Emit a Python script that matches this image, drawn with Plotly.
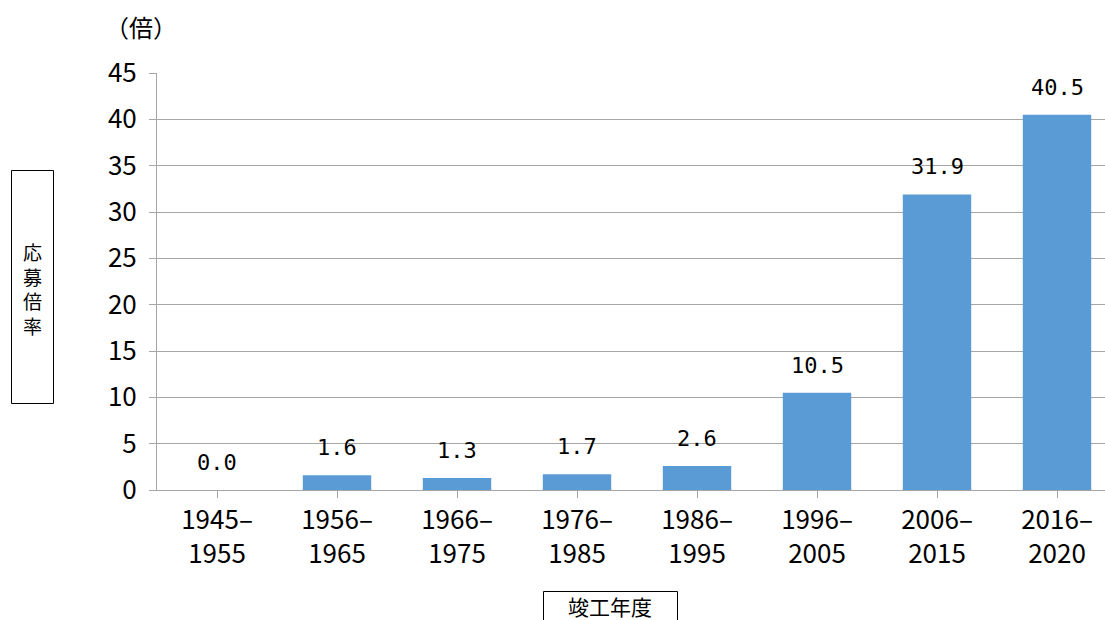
import plotly.graph_objects as go

# 竣工年度別の応募倍率
periods = ["1945-1955", "1956-1965", "1966-1975", "1976-1985",
           "1986-1995", "1996-2005", "2006-2015", "2016-2020"]
ratios = [0.0, 1.6, 1.3, 1.7, 2.6, 10.5, 31.9, 40.5]
y_ticks = [0, 5, 10, 15, 20, 25, 30, 35, 40, 45]
y_title = "応募倍率"
x_title = "竣工年度"
unit = "（倍）"

FONT = "Noto Sans CJK JP"
MONO = "DejaVu Sans Mono"
tick_text = [p.replace("-", "–<br>") for p in periods]

# plot area in pixels
L, R, T, B = 157, 1105, 73, 490


def px_x(px):
    return (px - L) / (R - L)


def px_y(py):
    return (B - py) / (B - T)


fig = go.Figure()
fig.add_trace(go.Bar(
    x=list(range(len(periods))),
    y=ratios,
    width=0.57,
    marker=dict(color="#5b9bd5", line=dict(width=0)),
    hoverinfo="skip",
))

# 棒の上の数値ラベル
for i, v in enumerate(ratios):
    fig.add_annotation(
        x=i, y=v, xref="x", yref="y",
        text=f"{v:.1f}",
        showarrow=False, yanchor="bottom", yshift=13,
        font=dict(family=MONO, size=22, color="#000000"),
    )

# 単位
fig.add_annotation(
    x=px_x(141), y=px_y(26), xref="paper", yref="paper", text=unit,
    xanchor="center", yanchor="middle",
    showarrow=False, font=dict(family=FONT, size=24, color="#000000"),
)

fig.update_layout(
    width=1105, height=620,
    margin=dict(l=L, r=1105 - R, t=T, b=620 - B),
    paper_bgcolor="white", plot_bgcolor="white",
    showlegend=False,
    font=dict(family=FONT, size=25, color="#000000"),
    xaxis=dict(
        range=[-0.5, 7.4],
        tickmode="array",
        tickvals=list(range(len(periods))),
        ticktext=tick_text,
        tickfont=dict(family=FONT, size=26, color="#000000"),
        tickson="boundaries",
        ticks="outside", ticklen=7, tickcolor="#a6a6a6",
        showline=True, linecolor="#a6a6a6", linewidth=1,
        showgrid=False, zeroline=False,
        ticklabelstandoff=0,
    ),
    yaxis=dict(
        range=[0, 45],
        tickmode="array", tickvals=y_ticks,
        tickfont=dict(family=FONT, size=26, color="#000000"),
        ticks="outside", ticklen=7, tickcolor="#a6a6a6",
        showline=True, linecolor="#a6a6a6", linewidth=1,
        showgrid=True, gridcolor="#a6a6a6", gridwidth=1,
        zeroline=False,
        ticklabelstandoff=7,
    ),
)

# 縦軸タイトル（枠付き・縦書き）
fig.add_shape(type="rect", xref="paper", yref="paper",
              x0=px_x(11.5), x1=px_x(53.5),
              y0=px_y(403.5), y1=px_y(170.5),
              line=dict(color="#000000", width=1), fillcolor="white")
fig.add_annotation(
    x=px_x(32), y=px_y(288), xref="paper", yref="paper",
    text="<br>".join(y_title), showarrow=False,
    xanchor="center", yanchor="middle",
    font=dict(family=FONT, size=19, color="#000000"),
)

# 横軸タイトル（枠付き）
fig.add_shape(type="rect", xref="paper", yref="paper",
              x0=px_x(543.5), x1=px_x(677.5),
              y0=px_y(640), y1=px_y(591.5),
              line=dict(color="#000000", width=1), fillcolor="white")
fig.add_annotation(
    x=px_x(610), y=px_y(606), xref="paper", yref="paper",
    text=x_title, showarrow=False, xanchor="center", yanchor="middle",
    font=dict(family=FONT, size=21, color="#000000"),
)

fig.write_html("out.html")
